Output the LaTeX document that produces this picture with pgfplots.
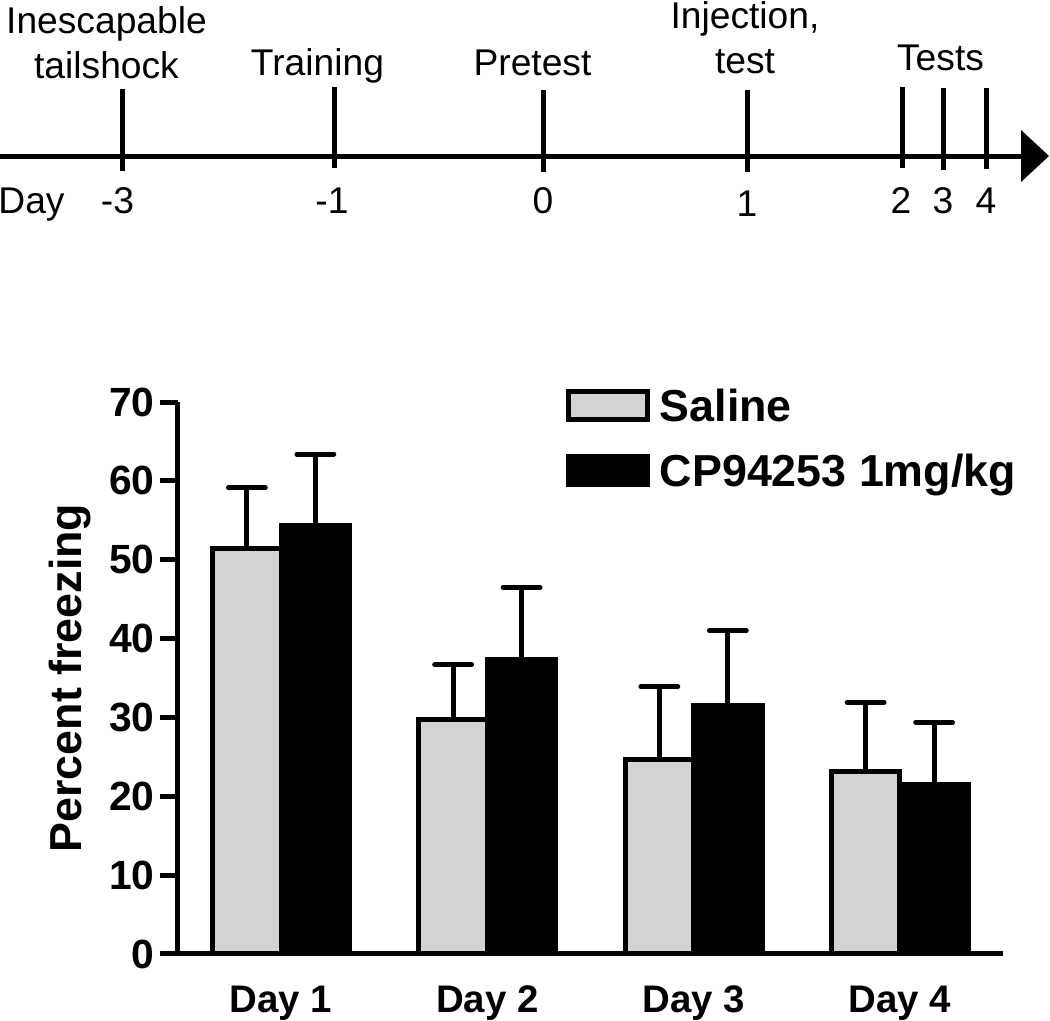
\documentclass[border=0pt]{standalone}
\usepackage{pgfplots}
\pgfplotsset{compat=1.18}
\usepackage{fontspec}
\setmainfont{Liberation Sans}
\definecolor{salgray}{RGB}{211,211,211}
\begin{document}
\begin{tikzpicture}
\path[use as bounding box] (0,0) rectangle (262.5pt,255pt);
% ---------- timeline (pixel coordinates, y downwards) ----------
\begin{axis}[at={(131.25pt,127.5pt)}, anchor=center, scale only axis,
  width=262.5pt, height=255pt, xmin=0, xmax=1050, ymin=0, ymax=1020,
  y dir=reverse, hide axis, clip=false]
\addplot[black, line width=1.25pt] coordinates {(0,156) (1024,156)};
\addplot[fill=black, draw=none] coordinates {(1021,130) (1049,156) (1021,182)};
\addplot[black, line width=1.25pt] coordinates {(122,89) (122,171)};
\addplot[black, line width=1.25pt] coordinates {(334,87) (334,168)};
\addplot[black, line width=1.25pt] coordinates {(543,90) (543,172)};
\addplot[black, line width=1.25pt] coordinates {(747,90) (747,172)};
\addplot[black, line width=1.25pt] coordinates {(902,87) (902,168)};
\addplot[black, line width=1.25pt] coordinates {(943,88) (943,170)};
\addplot[black, line width=1.25pt] coordinates {(986,88) (986,169)};
\tikzset{tl/.style={anchor=base, inner sep=0pt, font=\fontsize{9.3}{11}\selectfont},
         dl/.style={anchor=base, inner sep=0pt, font=\fontsize{9.3}{11}\selectfont}}
\node[tl] at (axis cs:106.5,33) {Inescapable};
\node[tl] at (axis cs:106.5,78) {tailshock};
\node[tl] at (axis cs:317.5,75) {Training};
\node[tl] at (axis cs:532.5,75) {Pretest};
\node[tl] at (axis cs:745,28) {Injection,};
\node[tl] at (axis cs:745,73) {test};
\node[tl] at (axis cs:940.5,70) {Tests};
\node[dl] at (axis cs:31.5,213) {Day};
\node[dl] at (axis cs:117.5,213) {-3};
\node[dl] at (axis cs:332,213) {-1};
\node[dl] at (axis cs:543,213) {0};
\node[dl] at (axis cs:747,216) {1};
\node[dl] at (axis cs:901,213) {2};
\node[dl] at (axis cs:943,213) {3};
\node[dl] at (axis cs:986,213) {4};
\end{axis}
% ---------- bar chart ----------
\begin{axis}[at={(147.625pt,85.5pt)}, anchor=center, scale only axis,
  width=206.25pt, height=138pt,
  xmin=-0.5, xmax=3.5, ymin=0, ymax=70,
  axis lines*=left,
  axis line style={line width=1.25pt},
  ybar,
  ytick={0,10,...,70},
  xtick={0,1,2,3},
  xticklabels={Day 1,Day 2,Day 3,Day 4},
  tick align=outside,
  major tick length=4.5pt,
  ytick style={line width=1.25pt, black},
  xtick style={draw=none},
  /pgf/number format/assume math mode=true,
  yticklabel style={font=\bfseries\fontsize{10.2}{12}\selectfont, xshift=2.2pt},
  xticklabel style={font=\bfseries\fontsize{9.6}{12}\selectfont},
  ylabel={Percent freezing},
  ylabel style={font=\bfseries\fontsize{11.2}{13}\selectfont,
    at={(axis description cs:-0.1164,0.5)}, anchor=base},
  error bars/y dir=plus,
  error bars/y explicit,
  error bars/error bar style={line width=1.25pt, black},
  error bars/error mark options={rotate=90, line width=1.25pt, black, mark size=4.6pt, line cap=round},
  legend image code/.code={\draw[#1, line width=1.25pt] (0pt,-2.4pt) rectangle (19.75pt,4.6pt);},
  legend style={draw=none, fill=none, at={(axis description cs:0.4697,1.044)},
    anchor=north west, inner sep=0pt, outer sep=0pt, row sep=0pt, column sep=2.6pt,
    font=\bfseries\fontsize{11.2}{13}\selectfont,
    nodes={inner sep=0pt, text height=11pt, text depth=5.25pt}},
  legend cell align=left,
]
\addplot[fill=salgray, draw=black, line width=1.25pt, bar width=0.332, bar shift=-0.166]
  coordinates {(0,51.4) +- (0,7.7) (1,29.8) +- (0,6.9) (2,24.7) +- (0,9.2) (3,23.2) +- (0,8.7)};
\addlegendentry{Saline}
\addplot[fill=black, draw=black, line width=1.25pt, bar width=0.332, bar shift=0.166]
  coordinates {(0,54.4) +- (0,9.0) (1,37.3) +- (0,9.2) (2,31.5) +- (0,9.5) (3,21.5) +- (0,7.9)};
\addlegendentry{CP94253 1mg/kg}
\end{axis}
\end{tikzpicture}
\end{document}
